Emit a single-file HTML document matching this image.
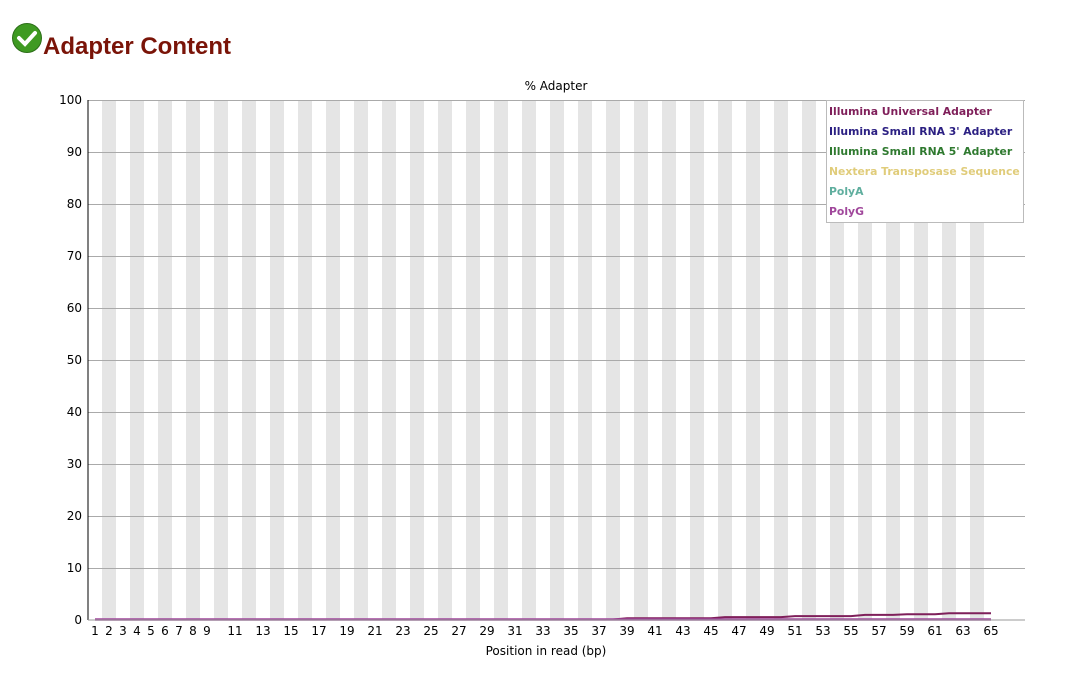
<!DOCTYPE html>
<html><head><meta charset="utf-8"><style>
body{margin:0;background:#fff;font-family:"Liberation Sans","DejaVu Sans",sans-serif;}
svg text{font-family:"DejaVu Sans","Liberation Sans",sans-serif;}
</style></head><body>
<svg width="1081" height="679" xmlns="http://www.w3.org/2000/svg">
<g>
<circle cx="27" cy="38" r="14.5" fill="#3f9a22" stroke="#2c6e18"/>
<path d="M19 38 l6 6 l10 -11" stroke="#fff" stroke-width="4" fill="none" stroke-linecap="round"/>
</g>
<text x="43" y="54" font-size="24" font-weight="bold" fill="#7a1408" style="font-family:'Liberation Sans',sans-serif">Adapter Content</text>
<text x="556" y="90" font-size="12" text-anchor="middle">% Adapter</text>
<g id="stripes"></g><g id="grid"></g><g id="yt"></g><g id="xt"></g><g id="lines"></g>
<line x1="88" y1="100" x2="88" y2="620" stroke="#000"/>
<line x1="88" y1="620" x2="1025" y2="620" stroke="#999"/>
<text x="546" y="655" font-size="12" text-anchor="middle">Position in read (bp)</text>
<g>
<rect x="826.5" y="100.5" width="197" height="122" fill="#fff" stroke="#bbb"/>
<g id="leg" font-size="10.8" font-weight="bold"></g>
</g>
</svg>
<script>
const positions=[];for(let i=1;i<=65;i++)positions.push(i);
const yTicks=[0,10,20,30,40,50,60,70,80,90,100];
const universal=[0,0,0,0,0,0,0,0,0,0,0,0,0,0,0,0,0,0,0,0,0,0,0,0,0,0,0,0,0,0,0,0,0,0,0,0,0,0,0.25,0.25,0.25,0.25,0.25,0.25,0.25,0.45,0.45,0.45,0.45,0.45,0.65,0.65,0.65,0.65,0.65,0.9,0.9,0.9,1.0,1.0,1.0,1.2,1.2,1.2,1.2];
const zeros=positions.map(()=>0);
const seriesNames=["Illumina Universal Adapter","Illumina Small RNA 3' Adapter","Illumina Small RNA 5' Adapter","Nextera Transposase Sequence","PolyA","PolyG"];
const seriesColors=["#7f1f5a","#2c2083","#2f7a2f","#e0cc7a","#5fae9e","#a0479b"];
const seriesData=[universal,zeros,zeros,zeros,zeros,zeros];
const NS="http://www.w3.org/2000/svg";
const X=p=>88+(p-1)*14+7, Y=v=>620-v*5.2;
function mk(t,a,par){const e=document.createElementNS(NS,t);for(const k in a)e.setAttribute(k,a[k]);document.getElementById(par).appendChild(e);return e;}
positions.forEach(p=>{if(p%2==0){const r=mk('rect',{x:X(p)-7,y:100,width:14,height:520,fill:'#e5e5e5'},'stripes');

}
if(p<=9||p%2==1){const t=mk('text',{x:X(p),y:635,'font-size':12,'text-anchor':'middle'},'xt');t.textContent=p;

}});
yTicks.forEach(v=>{if(v>0){const l=mk('line',{x1:88,x2:1025,y1:Y(v)+.5,y2:Y(v)+.5,stroke:'#aaa'},'grid');

}
const t=mk('text',{x:82,y:Y(v)+4,'font-size':12,'text-anchor':'end'},'yt');t.textContent=v;

});
for(let s=seriesData.length-1;s>=0;s--){const d=seriesData[s];
const pl=mk('polyline',{points:d.map((v,i)=>X(positions[i])+','+(Y(v)-0.5)).join(' '),fill:'none',stroke:seriesColors[s],'stroke-width':s==5?2.5:2},'lines');

}
const ul=document.getElementById('lines');ul.appendChild(ul.firstChild);
seriesNames.forEach((n,i)=>{const t=mk('text',{x:829,y:115+i*20,fill:seriesColors[i]},'leg');t.textContent=n;

});
</script>
</body></html>
